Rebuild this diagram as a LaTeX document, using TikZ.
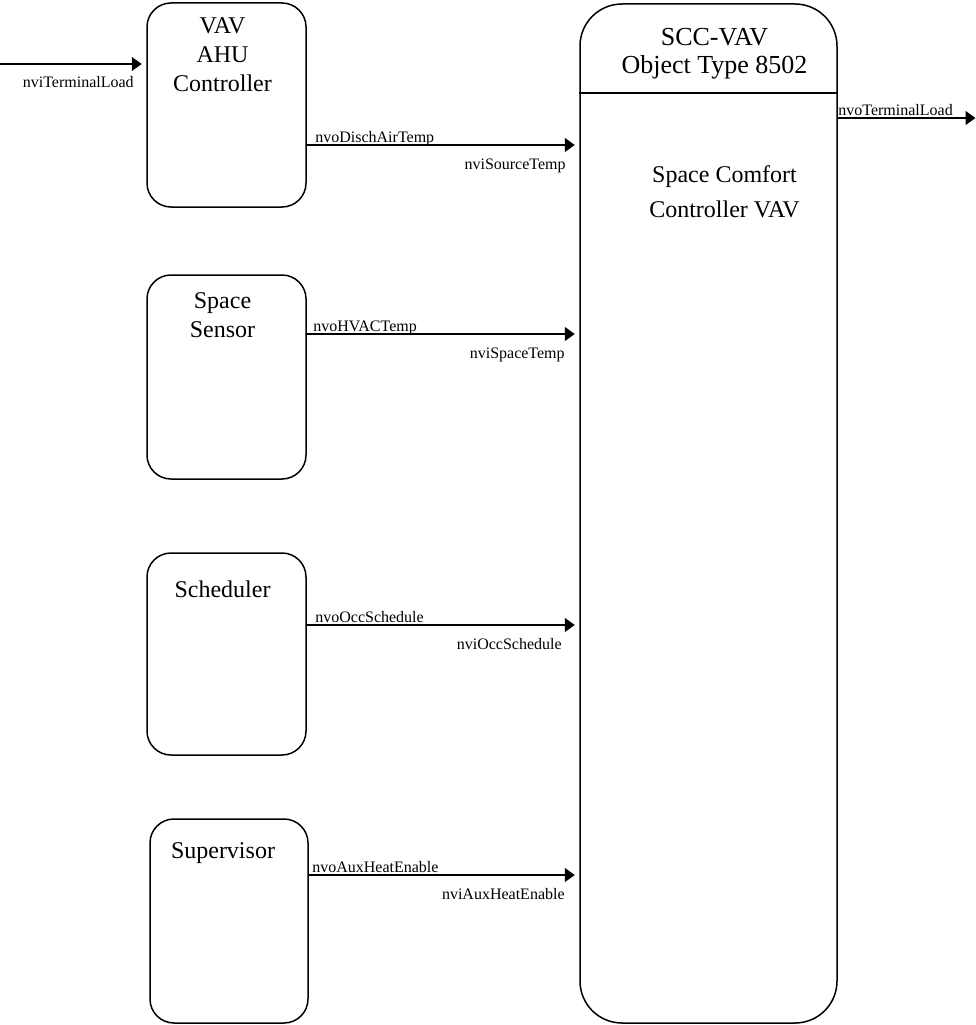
\documentclass[tikz,border=0pt]{standalone}
\usepackage{fontspec}
\setmainfont{Liberation Serif}
\usepackage{tikz}
\usetikzlibrary{positioning}
\usetikzlibrary{arrows.meta}
\tikzset{
    object diagram/.style={
            x=1pt,y=1pt,
            unit/.style={draw,line width=1.5pt,rounded corners=24pt,inner sep=0pt},
            bigunit/.style={unit,rounded corners=42pt},
            unittext/.style={anchor=north,inner sep=0pt,align=center,font=\fontsize{24}{29}\selectfont},
            link/.style={-{Triangle[length=10pt,width=14pt]},line width=1.2pt,shorten >=4.5pt},
            nvo/.style={pos=0,anchor=base west,inner sep=0pt,yshift=3pt,font=\fontsize{16}{19}\selectfont},
            nvi/.style={pos=1,anchor=base east,inner sep=0pt,yshift=-24pt,font=\fontsize{16}{19}\selectfont}
        }
    }

\begin{document}
\begin{tikzpicture}[object diagram]
    \useasboundingbox (0,0) rectangle (976,-1025);
    % the objects
    \node [bigunit,minimum width=257pt,minimum height=1019pt] (scc) at (708.5,-513.5) {};
    \node [unit,minimum width=159pt,minimum height=204pt] (ahu) at (226.5,-105) {};
    \node [unit,minimum width=159pt,minimum height=204pt] (sensor) at (226.5,-377) {};
    \node [unit,minimum width=159pt,minimum height=202pt] (sched) at (226.5,-654) {};
    \node [unit,minimum width=158pt,minimum height=204pt] (superv) at (229,-921) {};
    \node [unittext,below=15pt of ahu.north,xshift=-4pt] (ahu-t) {VAV\\AHU\\Controller};
    \node [unittext,below=18pt of sensor.north,xshift=-4pt] (sensor-t) {Space\\Sensor};
    \node [unittext,below=28pt of sched.north,xshift=-4pt] (sched-t) {Scheduler};
    \node [unittext,below=24pt of superv.north,xshift=-6pt] (superv-t) {Supervisor};
    \node [unittext,below=25pt of scc.north,xshift=6pt,font=\fontsize{26}{28}\selectfont] (scc-t) {SCC-VAV\\Object Type 8502};
    \node [unittext,below=162pt of scc.north,xshift=16pt,font=\fontsize{24}{35}\selectfont] (scc-name) {Space Comfort\\Controller VAV};
    \coordinate (sep) at (0,-93);
    \draw [line width=1.5pt] (scc.west |- sep) -- (scc.east |- sep);
    % the bindings
    \coordinate (load in) at (0,-64);
    \coordinate (load out) at (980,-118);
    \coordinate (row1) at (0,-145);
    \coordinate (row2) at (0,-334);
    \coordinate (row3) at (0,-625);
    \coordinate (row4) at (0,-875);
    \draw [link] (load in) -- (ahu.west |- load in)
        node [nvi,xshift=-12pt] {nviTerminalLoad};
    \draw [link] (ahu.east |- row1) -- (scc.west |- row1)
        node [nvo,xshift=8pt] {nvoDischAirTemp}
        node [nvi,xshift=-13pt] {nviSourceTemp};
    \draw [link] (sensor.east |- row2) -- (scc.west |- row2)
        node [nvo,xshift=6pt] {nvoHVACTemp}
        node [nvi,xshift=-14pt] {nviSpaceTemp};
    \draw [link] (sched.east |- row3) -- (scc.west |- row3)
        node [nvo,xshift=8pt] {nvoOccSchedule}
        node [nvi,xshift=-17pt] {nviOccSchedule};
    \draw [link] (superv.east |- row4) -- (scc.west |- row4)
        node [nvo,xshift=3pt] {nvoAuxHeatEnable}
        node [nvi,xshift=-14pt] {nviAuxHeatEnable};
    \draw [link] (scc.east |- load out) -- (load out)
        node [nvo] {nvoTerminalLoad};
\end{tikzpicture}
\end{document}
